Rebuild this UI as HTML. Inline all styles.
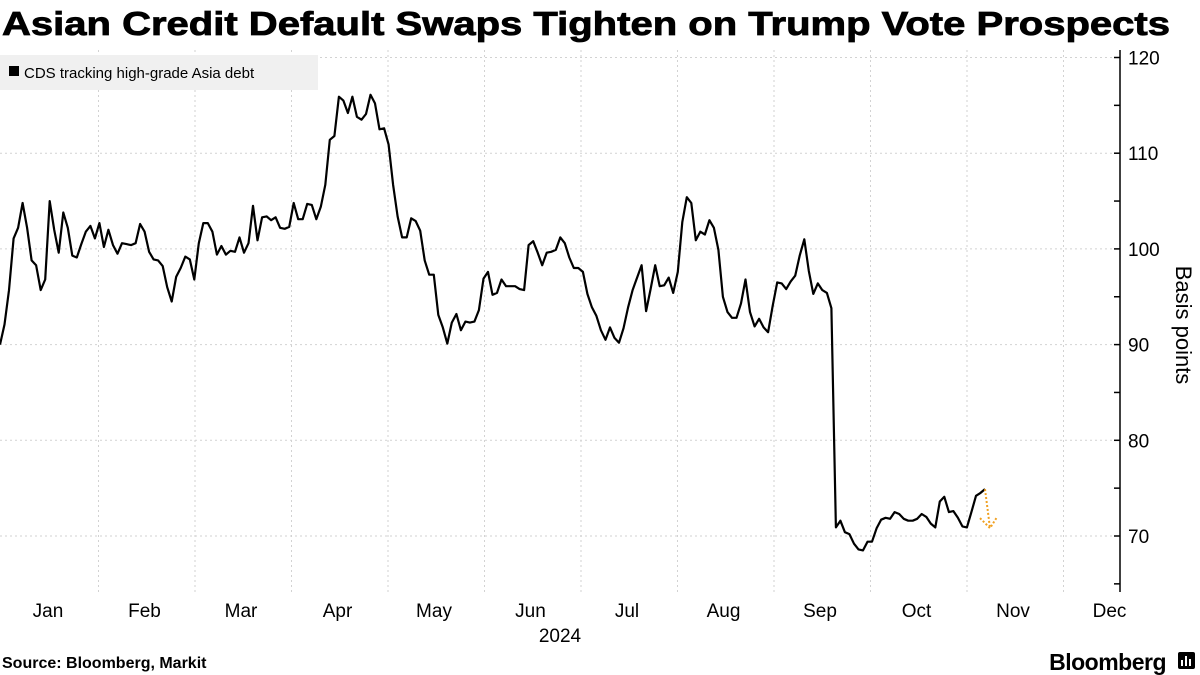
<!DOCTYPE html>
<html><head><meta charset="utf-8">
<style>
body{margin:0;background:#fff;font-family:"Liberation Sans",sans-serif;}
#wrap{position:relative;width:1200px;height:675px;overflow:hidden;}
</style></head>
<body>
<div id="wrap">
<svg id="chart" width="1200" height="675" xmlns="http://www.w3.org/2000/svg">
<text x="2" y="35" font-family="Liberation Sans, sans-serif" font-weight="bold" font-size="33" fill="#000" stroke="#000" stroke-width="0.8" textLength="1168" lengthAdjust="spacingAndGlyphs">Asian Credit Default Swaps Tighten on Trump Vote Prospects</text>
<g id="grid"></g>
<g id="yaxis"></g>
<g id="xaxis"></g>
<g id="series"></g>
<g>
<rect x="0" y="55" width="318" height="35" fill="#f0f0f0"/>
<rect x="9" y="66" width="10" height="10" fill="#000"/>
<text x="24" y="78" font-size="15" fill="#000">CDS tracking high-grade Asia debt</text>
</g>
<text transform="translate(1176,325) rotate(90)" text-anchor="middle" font-size="22" fill="#000">Basis points</text>
<text x="2" y="668" font-size="16" font-weight="bold" fill="#000">Source: Bloomberg, Markit</text>
<text x="1166" y="670" text-anchor="end" font-size="23" font-weight="bold" fill="#000" letter-spacing="-0.5">Bloomberg</text>
<g>
<rect x="1178" y="652" width="17" height="17" rx="2" fill="#000"/>
<rect x="1181" y="660" width="2" height="6" fill="#fff"/><rect x="1185" y="656" width="2" height="10" fill="#fff"/><rect x="1189" y="659" width="2" height="7" fill="#fff"/>
</g>
</svg>
</div>
<script>
const values=[90.0,92.1,95.7,101.1,102.2,104.8,102.2,98.8,98.3,95.7,96.8,105.0,102.0,99.6,103.8,102.2,99.3,99.1,100.5,101.8,102.4,101.1,102.7,100.2,102.0,100.4,99.5,100.6,100.5,100.4,100.6,102.6,101.8,99.7,98.9,98.8,98.2,96.0,94.5,97.1,98.0,99.2,98.9,96.8,100.6,102.7,102.7,101.8,99.4,100.3,99.4,99.8,99.7,101.2,99.6,100.6,104.5,100.9,103.3,103.4,103.0,103.3,102.2,102.1,102.3,104.8,103.1,103.1,104.7,104.6,103.1,104.4,106.7,111.4,111.8,115.9,115.5,114.2,115.9,113.8,113.5,114.1,116.1,115.2,112.5,112.6,110.9,106.7,103.4,101.2,101.2,103.2,102.9,101.9,98.8,97.3,97.3,93.1,91.8,90.1,92.3,93.2,91.5,92.4,92.3,92.4,93.6,96.9,97.6,95.2,95.4,96.8,96.1,96.1,96.1,95.8,95.7,100.4,100.8,99.6,98.3,99.6,99.7,99.9,101.2,100.6,99.1,98.0,98.0,97.6,95.3,93.9,93.0,91.5,90.5,91.8,90.7,90.2,91.7,93.9,95.7,97.0,98.3,93.5,95.8,98.3,96.1,96.2,97.0,95.4,97.6,102.8,105.4,104.8,100.9,101.8,101.5,103.0,102.2,99.9,95.0,93.4,92.8,92.8,94.3,96.8,93.4,91.9,92.7,91.8,91.3,94.0,96.5,96.4,95.8,96.6,97.2,99.3,101.0,97.7,95.3,96.4,95.7,95.4,93.8,70.9,71.6,70.4,70.2,69.2,68.6,68.5,69.4,69.4,70.8,71.7,71.9,71.8,72.5,72.3,71.8,71.6,71.6,71.8,72.3,72.0,71.3,70.9,73.6,74.1,72.5,72.6,71.9,71.0,70.9,72.5,74.2,74.5,74.9];
const yTicks=[70,80,90,100,110,120];
const yMinorTicks=[65,75,85,95,105,115];
const months=["Jan","Feb","Mar","Apr","May","Jun","Jul","Aug","Sep","Oct","Nov","Dec"];
const yearLabel="2024";

const NS="http://www.w3.org/2000/svg";
const PL=0,PR=1120,PT=50,PB=592;
const XEND=985;
function y(v){return 536-(v-70)*9.57;}
function x(i){return PL+i*(XEND-PL)/(values.length-1);}
function monthX(m){return m*96.5;}
function mk(tag,attrs,parent){const e=document.createElementNS(NS,tag);for(const k in attrs)e.setAttribute(k,attrs[k]);parent.appendChild(e);return e;}
const grid=document.getElementById('grid'),ya=document.getElementById('yaxis'),xa=document.getElementById('xaxis'),ser=document.getElementById('series');

yTicks.forEach(t=>{
  const g=mk('line',{x1:0,x2:PR,y1:y(t),y2:y(t),stroke:'#d2d2d2','stroke-dasharray':'2,3','stroke-width':1},grid);
  
  
  const tk=mk('line',{x1:PR-6,x2:PR,y1:y(t),y2:y(t),stroke:'#000','stroke-width':1.5},ya);
  
  
  const lb=mk('text',{x:PR+8,y:y(t)+7,'font-size':19,fill:'#000'},ya);
  lb.textContent=t;
  
  
});
yMinorTicks.forEach(t=>{
  const tk=mk('line',{x1:PR-6,x2:PR,y1:y(t),y2:y(t),stroke:'#000','stroke-width':1.5},ya);
  
  
});
const ax=mk('line',{x1:PR,x2:PR,y1:PT,y2:PB,stroke:'#000','stroke-width':1.5},ya);



months.forEach((m,i)=>{
  if(i>0){
    const g=mk('line',{x1:monthX(i)+2,x2:monthX(i)+2,y1:PT,y2:PB,stroke:'#d2d2d2','stroke-dasharray':'2,3','stroke-width':1},grid);
    
    
  }
  const lb=mk('text',{x:monthX(i)+48,y:617,'text-anchor':'middle','font-size':19,fill:'#000'},xa);
  lb.textContent=m;
  
  
});
const yl=mk('text',{x:560,y:642,'text-anchor':'middle','font-size':19,fill:'#000'},xa);
yl.textContent=yearLabel;



const pts=values.map((v,i)=>x(i).toFixed(1)+','+y(v).toFixed(1)).join(' ');
const line=mk('polyline',{points:pts,fill:'none',stroke:'#000','stroke-width':2.2,'stroke-linejoin':'round'},ser);



const lx=x(values.length-1),ly=y(values[values.length-1]);
const arrow=mk('g',{stroke:'#f0a020','stroke-width':2,'stroke-dasharray':'2,2',fill:'none'},ser);


mk('line',{x1:lx,y1:ly,x2:lx+5,y2:ly+39},arrow);
mk('polyline',{points:(lx-5)+','+(ly+29)+' '+(lx+5)+','+(ly+39)+' '+(lx+12)+','+(ly+28)},arrow);
</script>
</body></html>
